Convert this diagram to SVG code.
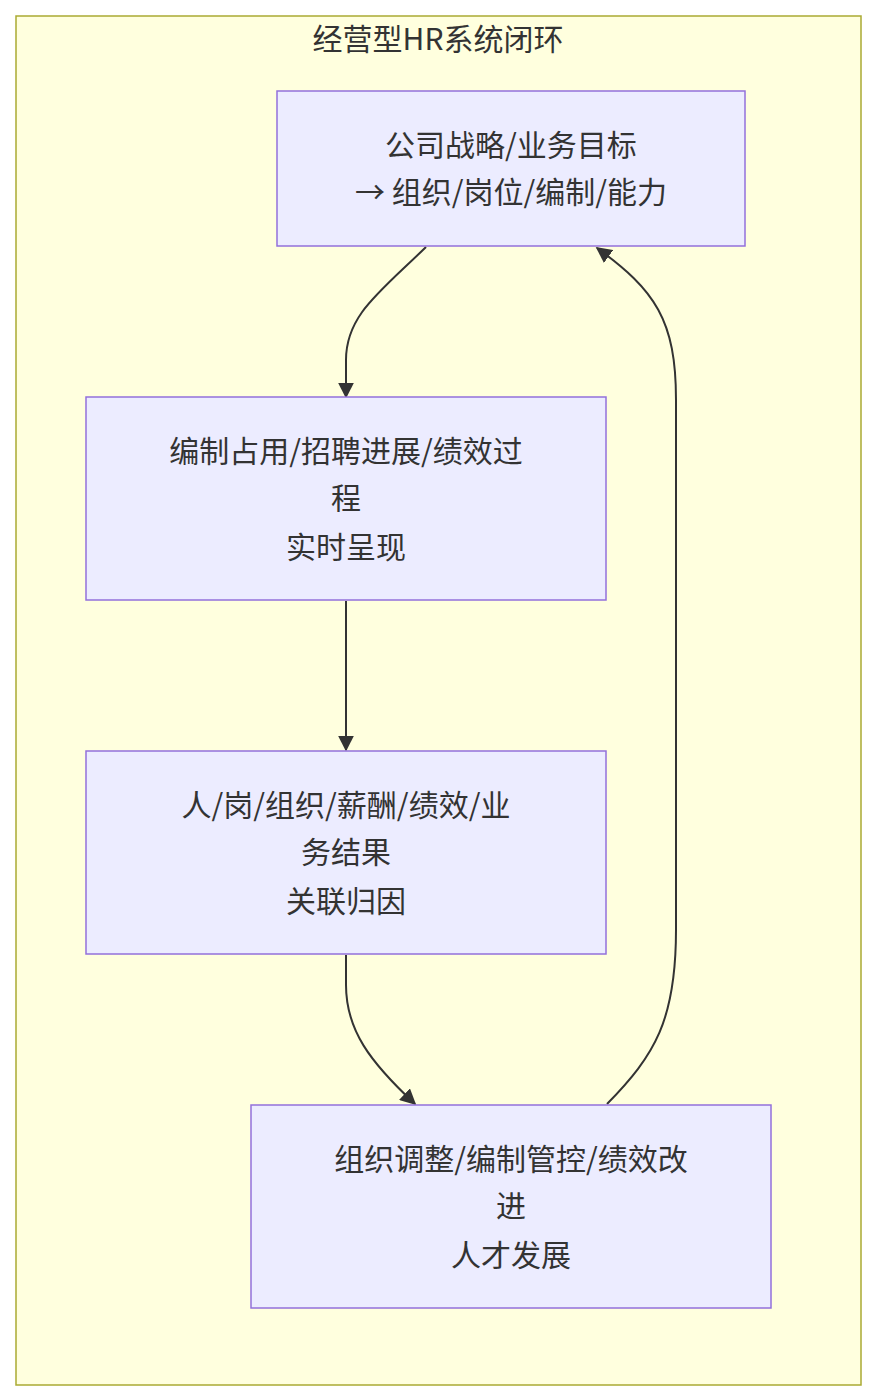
<svg xmlns="http://www.w3.org/2000/svg" width="877" height="1400" viewBox="0 0 877 1400">
<style>
.n{fill:#ececff;stroke:#9370db;stroke-width:1.5}
.t{font-family:"Noto Sans CJK SC","Noto Sans",sans-serif;font-size:30px;fill:#333;text-anchor:middle}
.e{fill:none;stroke:#333;stroke-width:2;marker-end:url(#a)}
</style>
<defs><marker id="a" viewBox="0 0 10 10" refX="9" refY="5" markerWidth="8" markerHeight="8" orient="auto"><path d="M0,0L10,5L0,10z" fill="#333"/></marker></defs>
<rect x="16" y="16" width="845" height="1369" fill="#ffffde" stroke="#aaaa33" stroke-width="1.5"/>
<text class="t" x="438" y="50" font-size="30">经营型HR系统闭环</text>
<g id="connectors">
<path class="e" d="M426,247 C380,292 346,315 346,360 L346,397"/>
<path class="e" d="M346,601 L346,750"/>
<path class="e" d="M346,955 L346,985 C346,1030 370,1062 415,1104"/>
<path class="e" d="M607,1104 C655,1055 676,1020 676,930 L676,400 C676,320 655,290 597,248"/>
</g>
<g id="n1"><rect class="n" x="277" y="91" width="468" height="155"/><text class="t" x="511" y="156">公司战略/业务目标</text><text class="t" x="511" y="203">→ 组织/岗位/编制/能力</text></g>
<g id="n2"><rect class="n" x="86" y="397" width="520" height="203"/><text class="t" x="346" y="462">编制占用/招聘进展/绩效过</text><text class="t" x="346" y="509">程</text><text class="t" x="346" y="558">实时呈现</text></g>
<g id="n3"><rect class="n" x="86" y="751" width="520" height="203"/><text class="t" x="346" y="816">人/岗/组织/薪酬/绩效/业</text><text class="t" x="346" y="863">务结果</text><text class="t" x="346" y="912">关联归因</text></g>
<g id="n4"><rect class="n" x="251" y="1105" width="520" height="203"/><text class="t" x="511" y="1170">组织调整/编制管控/绩效改</text><text class="t" x="511" y="1217">进</text><text class="t" x="511" y="1266">人才发展</text></g>
</svg>
